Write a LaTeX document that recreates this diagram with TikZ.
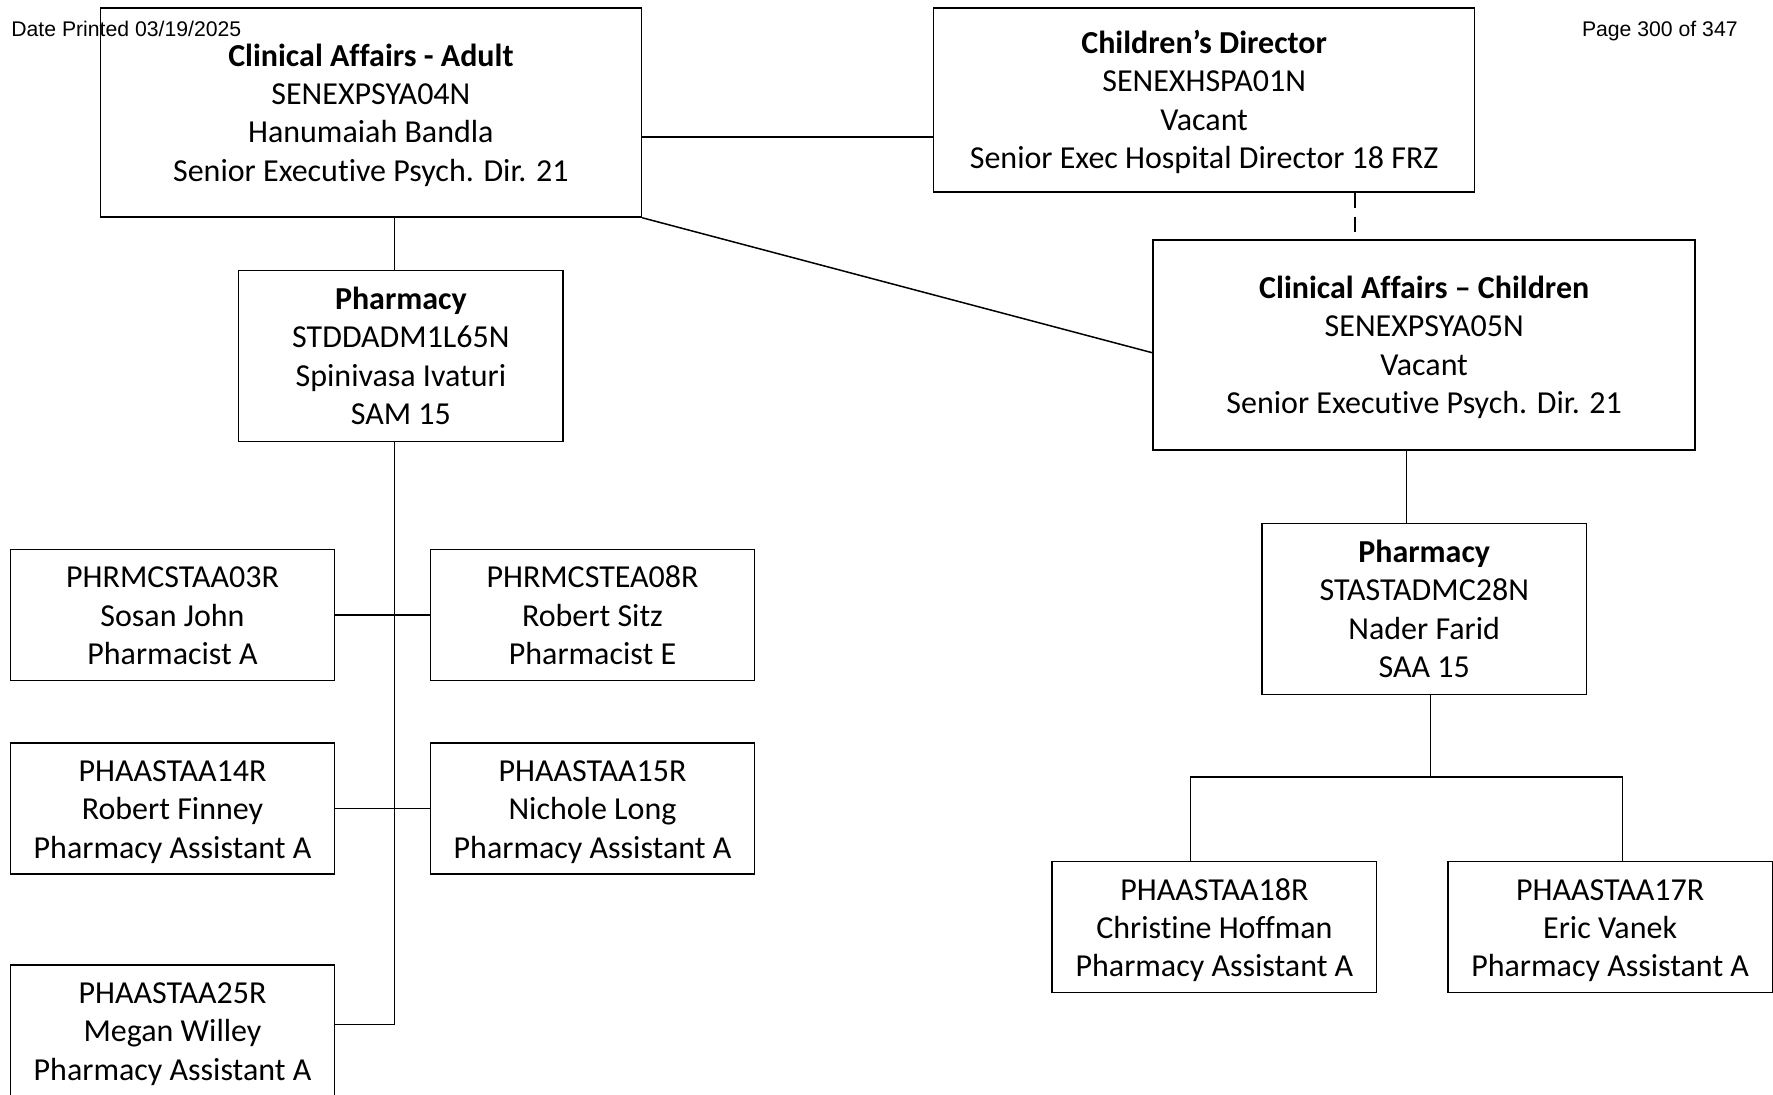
\documentclass[tikz,border=0pt]{standalone}
\usepackage{fontspec}
\setmainfont{Carlito}[Ligatures={CommonOff,ContextualOff}, Contextuals=AlternateOff]
\newfontfamily\hdrfont{Liberation Sans}
\usepackage{tikz}
\usetikzlibrary{positioning}
\definecolor{mydark}{RGB}{0,0,0}
\newcommand{\boxtext}[1]{\rule{0pt}{15.5pt}#1\rule[-4.3pt]{0pt}{0pt}}
\tikzset{
  orgbox/.style={rectangle, draw=mydark, line width=0.75pt,
    align=center, inner sep=0pt,
    font=\fontsize{16}{19.2}\selectfont},
  execbox/.style={orgbox, minimum width=270.5pt, minimum height=104.5pt},
  leadbox/.style={orgbox, minimum width=162.2pt, minimum height=85.5pt},
  staffbox/.style={orgbox, minimum width=162.2pt, minimum height=65.5pt},
  hdrtext/.style={font=\hdrfont\fontsize{10.6}{12}\selectfont, inner sep=0pt},
  link/.style={line width=0.75pt, color=mydark}
}

\begin{document}
\begin{tikzpicture}[x=0.5pt, y=-0.5pt,
  dashlink/.style={line width=1pt, color=mydark,
    dash pattern=on 7.5pt off 4.5pt}]

  \useasboundingbox (0,0) rectangle (1773,1095);

  % ── Page header ───────────────────────────────────────────────────────────
  \node[hdrtext, anchor=base west] (date) at (11, 37) {Date Printed 03/19/2025};
  \node[hdrtext, anchor=base east] (page) at (1738, 37) {Page 300 of 347};

  % ── Top row ───────────────────────────────────────────────────────────────
  \node[execbox] (caadult) at (370.9, 112.5)
       {\boxtext{\textbf{Clinical Affairs - Adult}\\SENEXPSYA04N\\Hanumaiah Bandla\\Senior Executive Psych. Dir. 21}};
  \node[execbox, minimum height=92pt] (chdir) at (1204.2, 100)
       {\boxtext{\textbf{Children’s Director}\\SENEXHSPA01N\\Vacant\\Senior Exec Hospital Director 18 FRZ}};

  % ── Second level ──────────────────────────────────────────────────────────
  \node[leadbox] (pharmA) at (400.9, 356)
       {\boxtext{\textbf{Pharmacy}\\STDDADM1L65N\\Spinivasa Ivaturi\\SAM 15}};
  \node[execbox, minimum width=271pt, minimum height=105pt] (cachild) at (1424.2, 345)
       {\boxtext{\textbf{Clinical Affairs – Children}\\SENEXPSYA05N\\Vacant\\Senior Executive Psych. Dir. 21}};
  \node[leadbox] (pharmC) at (1424.2, 609)
       {\boxtext{\textbf{Pharmacy}\\STASTADMC28N\\Nader Farid\\SAA 15}};

  % ── Adult pharmacy staff ──────────────────────────────────────────────────
  \node[staffbox] (st03) at (172.5, 615.1) {\boxtext{PHRMCSTAA03R\\Sosan John\\Pharmacist A}};
  \node[staffbox] (st08) at (592.5, 615.1) {\boxtext{PHRMCSTEA08R\\Robert Sitz\\Pharmacist E}};
  \node[staffbox] (st14) at (172.5, 808.5) {\boxtext{PHAASTAA14R\\Robert Finney\\Pharmacy Assistant A}};
  \node[staffbox] (st15) at (592.5, 808.5) {\boxtext{PHAASTAA15R\\Nichole Long\\Pharmacy Assistant A}};
  \node[staffbox] (st25) at (172.5, 1030.5) {\boxtext{PHAASTAA25R\\Megan Willey\\Pharmacy Assistant A}};

  % ── Children pharmacy staff ───────────────────────────────────────────────
  \node[staffbox] (st18) at (1214.4, 927.2) {\boxtext{PHAASTAA18R\\Christine Hoffman\\Pharmacy Assistant A}};
  \node[staffbox] (st17) at (1610.1, 927.2) {\boxtext{PHAASTAA17R\\Eric Vanek\\Pharmacy Assistant A}};

  % ── Junction points ───────────────────────────────────────────────────────
  \coordinate (topbar) at (0, 136.8);
  \coordinate (vac)    at (1354.6, 0);
  \coordinate (diag)   at (0, 352.8);
  \coordinate (spineA) at (394.6, 0);
  \coordinate (bend25) at (0, 1024.4);
  \coordinate (spineC) at (1406.6, 0);
  \coordinate (busC)   at (1430.3, 776.8);
  \coordinate (dropL)  at (1190.6, 776.8);
  \coordinate (dropR)  at (1622.6, 776.8);

  % ── Connections — top ─────────────────────────────────────────────────────
  \draw[link] (caadult.east |- topbar) -- (chdir.west |- topbar);
  \draw[dashlink] (chdir.south -| vac) -- (cachild.north -| vac);
  \draw[link] (caadult.south east) -- (cachild.west |- diag);

  % ── Connections — adult side ──────────────────────────────────────────────
  \draw[link] (caadult.south -| spineA) -- (pharmA.north -| spineA);
  \draw[link] (pharmA.south -| spineA) |- (st25.east |- bend25);
  \draw[link] (st03.east) -- (st08.west);
  \draw[link] (st14.east) -- (st15.west);

  % ── Connections — children side ───────────────────────────────────────────
  \draw[link] (cachild.south -| spineC) -- (pharmC.north -| spineC);
  \draw[link] (pharmC.south -| busC) -- (busC);
  \draw[link] (st18.north -| dropL) |- (dropR) -- (st17.north -| dropR);

\end{tikzpicture}
\end{document}
